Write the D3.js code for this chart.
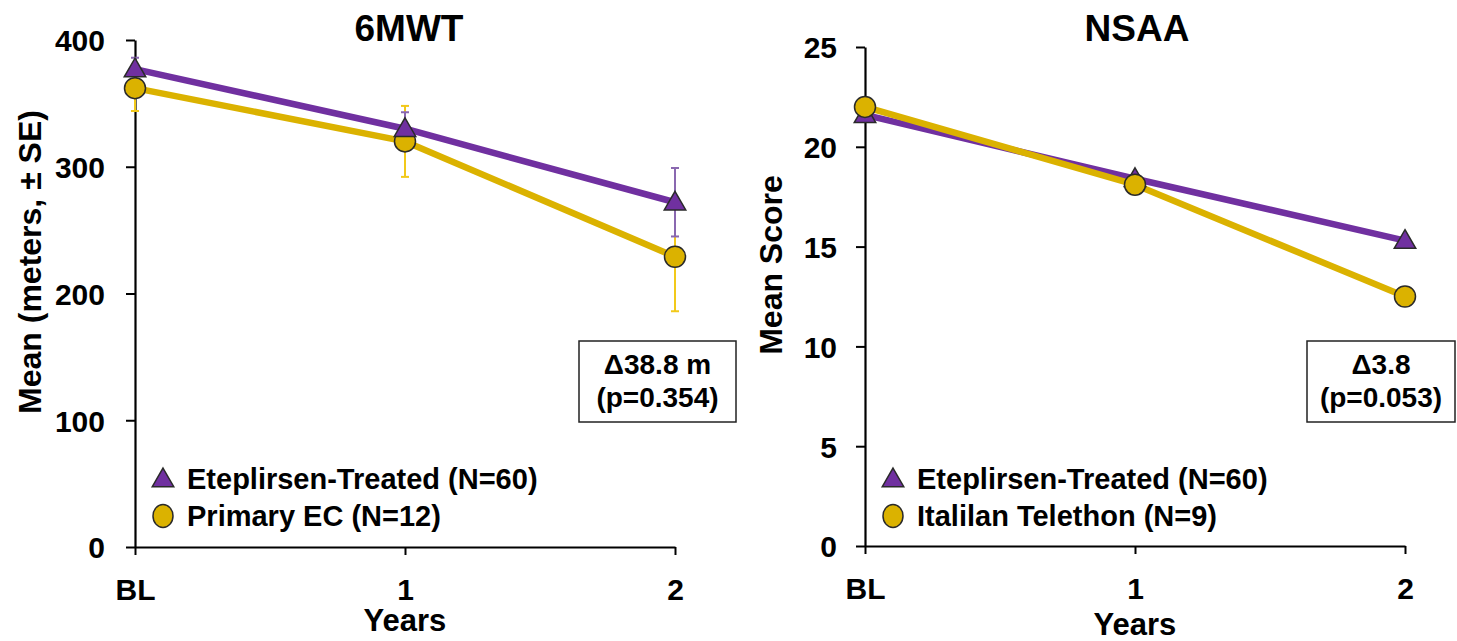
<!DOCTYPE html>
<html>
<head>
<meta charset="utf-8">
<script src="https://cdn.jsdelivr.net/npm/d3@7"></script>
<style>
    html, body { margin: 0; padding: 0; background: #fff; }
    svg { display: block; font-family: "Liberation Sans", Arial, sans-serif; font-weight: bold; }
</style>
</head>
<body>
<div id="chart"></div>
<script>
(function () {

    // ---- data ----
    const xLabels = ["BL", "1", "2"];

    const walkTicks = [0, 100, 200, 300, 400];
    const walkTreated = [377, 330, 272];
    const walkTreatedSE = [9, 13, 27];
    const walkControl = [362, 320, 229];
    const walkControlSE = [18, 28, 43];

    const nsaaTicks = [0, 5, 10, 15, 20, 25];
    const nsaaTreated = [21.6, 18.4, 15.3];
    const nsaaControl = [22.0, 18.1, 12.5];

    const PURPLE = "#7030a0", GOLD = "#dbb200";
    const PURPLE_ERR = "#8a68b0", GOLD_ERR = "#f2c91a";

    const width = 1457, height = 641;

    const svg = d3.select("#chart")
        .append("svg")
        .attr("width", width)
        .attr("height", height);

    function drawPanel(p) {
        const g = svg.append("g");

        const xScale = d3.scalePoint().domain(xLabels).range(p.xRange);
        const yScale = d3.scaleLinear().domain([0, d3.max(p.ticks)]).range(p.yRange);

        // y axis
        const yAxis = g.append("g")
            .attr("transform", `translate(${p.xRange[0]},0)`)
            .call(d3.axisLeft(yScale).tickValues(p.ticks).tickSize(9).tickSizeOuter(0).tickPadding(p.yPad));
        // x axis
        const xAxis = g.append("g")
            .attr("transform", `translate(0,${p.yRange[0]})`)
            .call(d3.axisBottom(xScale).tickSize(8).tickSizeOuter(0).tickPadding(24));

        [yAxis, xAxis].forEach(a => {
            a.select(".domain").attr("stroke", "#000").attr("stroke-width", 2.2);
            a.selectAll(".tick line").attr("stroke", "#000").attr("stroke-width", 2);
            a.selectAll(".tick text")
                .attr("fill", "#000")
                .style("font-size", "30px")
                .style("font-family", "'Liberation Sans', Arial, sans-serif")
                .style("font-weight", "bold");
        });
        yAxis.selectAll(".tick text").attr("dy", "0.36em");
        xAxis.selectAll(".tick text").attr("dy", "0.71em");

        // titles / labels
        g.append("text")
            .attr("x", p.titleX).attr("y", 41)
            .attr("text-anchor", "middle")
            .style("font-size", "37px")
            .text(p.title);

        g.append("text")
            .attr("transform", `translate(${p.yLabelX},${p.yLabelY}) rotate(-90)`)
            .attr("text-anchor", "middle")
            .style("font-size", "32px")
            .text(p.yLabel);

        g.append("text")
            .attr("x", xScale("1")).attr("y", p.xLabelY)
            .attr("text-anchor", "middle")
            .style("font-size", "31px")
            .text("Years");

        // error bars
        if (p.errors) {
            p.errors.forEach(e => {
                const eg = g.append("g").attr("stroke", e.color).attr("stroke-width", 2).attr("fill", "none");
                e.values.forEach((v, i) => {
                    const x = xScale(xLabels[i]);
                    const y1 = yScale(v - e.se[i]), y2 = yScale(v + e.se[i]);
                    eg.append("line").attr("x1", x).attr("x2", x).attr("y1", y1).attr("y2", y2);
                    eg.append("line").attr("x1", x - 4).attr("x2", x + 4).attr("y1", y1).attr("y2", y1);
                    eg.append("line").attr("x1", x - 4).attr("x2", x + 4).attr("y1", y2).attr("y2", y2);
                });
            });
        }

        const line = d3.line()
            .x((d, i) => xScale(xLabels[i]))
            .y(d => yScale(d));

        const tri = d3.symbol().type(d3.symbolTriangle).size(200);

        function drawSeries(s) {
            g.append("path")
                .datum(s.values)
                .attr("d", line)
                .attr("fill", "none")
                .attr("stroke", s.color)
                .attr("stroke-width", 6.5)
                .attr("stroke-linejoin", "round");
        }

        function drawMarkers(s) {
            const mg = g.append("g");
            s.values.forEach((v, i) => {
                const x = xScale(xLabels[i]), y = yScale(v);
                if (s.shape === "tri") {
                    mg.append("path")
                        .attr("d", tri())
                        .attr("transform", `translate(${x},${y + 1.5})`)
                        .attr("fill", s.color).attr("stroke", "#2a2a2a").attr("stroke-width", 1.5);
                } else {
                    mg.append("circle")
                        .attr("cx", x).attr("cy", y).attr("r", 10.5)
                        .attr("fill", s.color).attr("stroke", "#2a2a2a").attr("stroke-width", 1.5);
                }
            });
        }

        p.series.forEach(drawSeries);
        p.series.forEach(drawMarkers);

        // annotation box
        const b = p.box;
        g.append("rect")
            .attr("x", b.x).attr("y", 341).attr("width", b.w).attr("height", 81)
            .attr("fill", "#fff").attr("stroke", "#222").attr("stroke-width", 1.5);
        b.lines.forEach((t, i) => {
            g.append("text")
                .attr("x", b.x + b.w / 2).attr("y", 374 + i * 33)
                .attr("text-anchor", "middle")
                .style("font-size", "28px")
                .text(t);
        });

        // legend
        const lx = p.xRange[0] + 28;
        p.legend.forEach((l, i) => {
            const ly = 479 + i * 37;
            if (l.shape === "tri") {
                g.append("path").attr("d", tri()).attr("transform", `translate(${lx},${ly + 1.5})`)
                    .attr("fill", l.color).attr("stroke", "#2a2a2a").attr("stroke-width", 1.5);
            } else {
                g.append("ellipse").attr("cx", lx).attr("cy", ly).attr("rx", 10).attr("ry", 11.5)
                    .attr("fill", l.color).attr("stroke", "#2a2a2a").attr("stroke-width", 1.5);
            }
            g.append("text")
                .attr("x", lx + 24).attr("y", ly + 10)
                .style("font-size", "29px")
                .text(l.label);
        });
    }

    drawPanel({
        title: "6MWT", titleX: 409,
        xRange: [135, 675], yRange: [547, 40],
        ticks: walkTicks, yPad: 21,
        yLabel: "Mean (meters, \u00b1 SE)", yLabelX: 41, yLabelY: 262,
        xLabelY: 631,
        errors: [
            { values: walkControl, se: walkControlSE, color: GOLD_ERR },
            { values: walkTreated, se: walkTreatedSE, color: PURPLE_ERR }
        ],
        series: [
            { values: walkControl, color: GOLD, shape: "circle" },
            { values: walkTreated, color: PURPLE, shape: "tri" }
        ],
        box: { x: 579, w: 157, lines: ["\u039438.8 m", "(p=0.354)"] },
        legend: [
            { label: "Eteplirsen-Treated (N=60)", color: PURPLE, shape: "tri" },
            { label: "Primary EC (N=12)", color: GOLD, shape: "circle" }
        ]
    });

    drawPanel({
        title: "NSAA", titleX: 1137,
        xRange: [865, 1405], yRange: [546, 47],
        ticks: nsaaTicks, yPad: 19,
        yLabel: "Mean Score", yLabelX: 782, yLabelY: 265,
        xLabelY: 635,
        series: [
            { values: nsaaTreated, color: PURPLE, shape: "tri" },
            { values: nsaaControl, color: GOLD, shape: "circle" }
        ],
        box: { x: 1307, w: 148, lines: ["\u03943.8", "(p=0.053)"] },
        legend: [
            { label: "Eteplirsen-Treated (N=60)", color: PURPLE, shape: "tri" },
            { label: "Italilan Telethon (N=9)", color: GOLD, shape: "circle" }
        ]
    });

})()
</script>
</body>
</html>
